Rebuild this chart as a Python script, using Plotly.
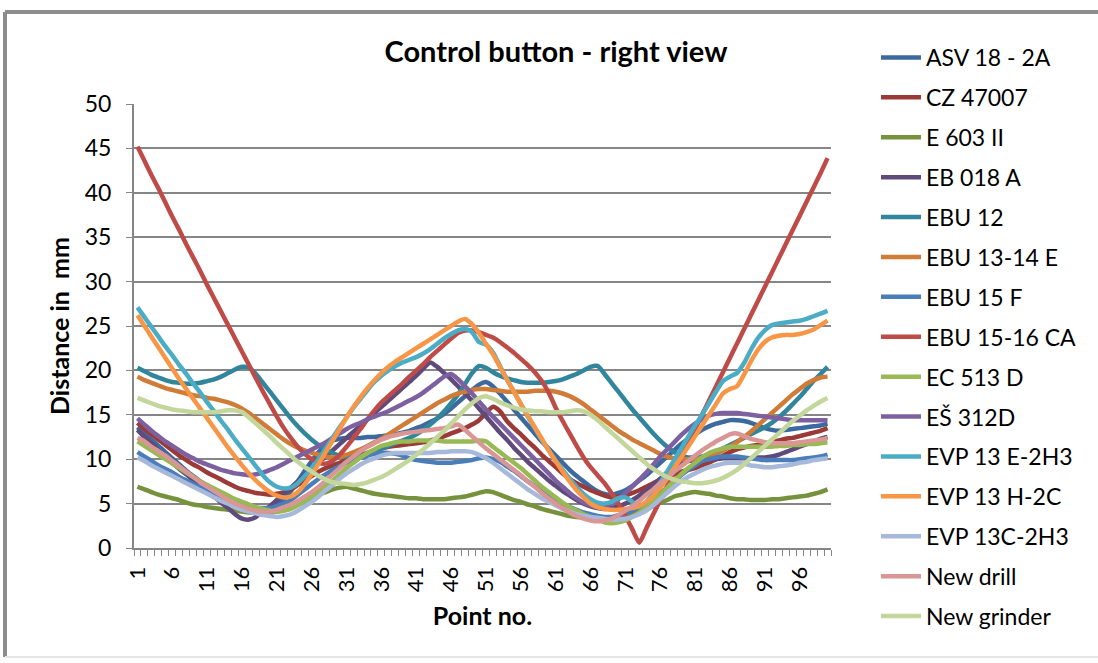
import plotly.graph_objects as go

# Measurement point numbers along the contour
points = list(range(1, 101))

asv_18_2a = [
    13.6, 12.9, 12.2, 11.5, 10.8, 10.1, 9.4, 8.7, 8.1, 7.5,
    7.0, 6.5, 6.0, 5.5, 5.0, 4.7, 4.4, 4.3, 4.3, 4.5,
    4.9, 5.5, 6.4, 7.5, 8.7, 9.8, 10.8, 11.6, 12.1, 12.3,
    12.4, 12.4, 12.4, 12.5, 12.5, 12.6, 12.7, 12.8, 13.0, 13.2,
    13.5, 13.8, 14.2, 14.6, 15.1, 15.7, 16.4, 17.1, 17.8, 18.4,
    18.7, 18.2, 17.4, 16.5, 15.6, 14.7, 13.8, 12.9, 12.0, 11.2,
    10.4, 9.6, 8.8, 8.1, 7.5, 6.9, 6.4, 6.1, 6.0, 6.2,
    6.5, 7.0, 7.6, 8.2, 8.9, 9.6, 10.3, 11.0, 11.7, 12.3,
    12.8, 13.3, 13.7, 14.0, 14.2, 14.4, 14.4, 14.3, 14.1, 13.8,
    13.5, 13.3, 13.2, 13.3, 13.4, 13.5, 13.6, 13.7, 13.8, 14.0,
]
cz_47007 = [
    14.1, 13.4, 12.8, 12.2, 11.6, 11.0, 10.4, 9.9, 9.4, 9.0,
    8.5, 8.1, 7.7, 7.3, 6.9, 6.6, 6.4, 6.2, 6.1, 6.0,
    6.1, 6.3, 6.6, 7.1, 7.6, 8.1, 8.6, 9.0, 9.3, 9.6,
    9.9, 10.2, 10.5, 10.7, 11.0, 11.2, 11.4, 11.5, 11.6, 11.7,
    11.8, 11.9, 12.1, 12.3, 12.6, 12.9, 13.2, 13.5, 13.9, 14.4,
    15.2, 15.9, 15.4, 14.3, 13.5, 12.8, 12.0, 11.3, 10.5, 9.8,
    9.1, 8.4, 7.8, 7.3, 6.9, 6.5, 6.2, 5.9, 5.7, 5.8,
    5.9, 6.2, 6.5, 6.9, 7.3, 7.7, 8.0, 8.3, 8.6, 8.8,
    9.0, 9.3, 9.6, 10.0, 10.4, 10.8, 11.1, 11.3, 11.5, 11.6,
    11.7, 11.9, 12.1, 12.3, 12.4, 12.6, 12.8, 13.0, 13.2, 13.5,
]
e_603_ii = [
    6.9, 6.6, 6.3, 6.0, 5.8, 5.6, 5.4, 5.1, 4.9, 4.8,
    4.6, 4.5, 4.4, 4.3, 4.2, 4.1, 4.0, 4.0, 4.0, 4.0,
    4.1, 4.3, 4.6, 4.9, 5.2, 5.6, 6.0, 6.3, 6.6, 6.8,
    6.9, 6.7, 6.5, 6.3, 6.1, 6.0, 5.9, 5.8, 5.7, 5.6,
    5.6, 5.5, 5.5, 5.5, 5.5, 5.6, 5.7, 5.8, 6.0, 6.2,
    6.4, 6.3, 6.0, 5.7, 5.4, 5.2, 4.9, 4.7, 4.4, 4.2,
    4.0, 3.8, 3.6, 3.5, 3.4, 3.3, 3.3, 3.3, 3.3, 3.4,
    3.6, 3.8, 4.1, 4.4, 4.7, 5.1, 5.4, 5.8, 6.0, 6.2,
    6.3, 6.2, 6.1, 5.9, 5.8, 5.6, 5.5, 5.5, 5.4, 5.4,
    5.4, 5.5, 5.5, 5.6, 5.7, 5.8, 5.9, 6.1, 6.3, 6.6,
]
eb_018_a = [
    13.3, 12.5, 11.8, 11.0, 10.3, 9.6, 8.9, 8.3, 7.6, 7.0,
    6.4, 5.8, 5.1, 4.5, 3.8, 3.3, 3.2, 3.5, 4.1, 4.7,
    5.4, 6.1, 6.8, 7.5, 8.2, 8.9, 9.6, 10.3, 11.0, 11.7,
    12.4, 13.1, 13.8, 14.5, 15.2, 15.9, 16.6, 17.3, 18.0, 18.7,
    19.4, 20.2, 20.9, 20.4, 19.7, 19.0, 18.2, 17.4, 16.6, 15.7,
    14.8, 13.9, 13.0, 12.2, 11.3, 10.5, 9.7, 9.0, 8.3, 7.6,
    7.0, 6.4, 5.9, 5.4, 5.0, 4.7, 4.5, 4.4, 4.5, 4.7,
    5.0, 5.4, 5.9, 6.5, 7.1, 7.8, 8.5, 9.1, 9.5, 9.8,
    9.9, 10.0, 10.0, 10.0, 10.1, 10.1, 10.1, 10.1, 10.1, 10.2,
    10.2, 10.3, 10.5, 10.8, 11.1, 11.4, 11.7, 12.0, 12.3, 12.5,
]
ebu_12 = [
    20.3, 19.9, 19.5, 19.2, 18.9, 18.7, 18.6, 18.5, 18.5, 18.6,
    18.8, 19.0, 19.3, 19.7, 20.1, 20.4, 20.3, 19.6, 18.6, 17.6,
    16.6, 15.6, 14.6, 13.7, 12.9, 12.2, 11.6, 11.1, 10.7, 10.4,
    10.3, 10.3, 10.4, 10.6, 10.9, 11.2, 11.5, 11.8, 12.1, 12.4,
    12.8, 13.3, 13.9, 14.6, 15.4, 16.3, 17.3, 18.5, 19.7, 20.5,
    20.3, 19.8, 19.4, 19.1, 18.9, 18.7, 18.6, 18.6, 18.6, 18.7,
    18.8, 19.0, 19.3, 19.6, 20.0, 20.4, 20.5, 19.6, 18.6, 17.6,
    16.6, 15.6, 14.7, 13.8, 12.9, 12.1, 11.4, 10.8, 10.4, 10.2,
    10.2, 10.3, 10.5, 10.8, 11.2, 11.6, 12.0, 12.4, 12.8, 13.2,
    13.6, 14.1, 14.7, 15.4, 16.2, 17.0, 17.9, 18.8, 19.6, 20.4,
]
ebu_13_14_e = [
    19.3, 18.9, 18.6, 18.3, 18.0, 17.8, 17.6, 17.4, 17.2, 17.1,
    16.9, 16.8, 16.6, 16.4, 16.1, 15.7, 15.2, 14.6, 14.0, 13.4,
    12.8, 12.2, 11.7, 11.3, 11.0, 10.7, 10.5, 10.3, 10.2, 10.3,
    10.5, 10.8, 11.1, 11.5, 11.9, 12.3, 12.8, 13.3, 13.8, 14.3,
    14.8, 15.3, 15.8, 16.3, 16.7, 17.1, 17.4, 17.6, 17.8, 17.9,
    17.9, 17.8, 17.7, 17.6, 17.6, 17.6, 17.6, 17.7, 17.7, 17.7,
    17.6, 17.4, 17.1, 16.7, 16.2, 15.6, 15.0, 14.4, 13.8, 13.2,
    12.7, 12.2, 11.8, 11.4, 11.0, 10.6, 10.3, 10.1, 10.0, 10.0,
    10.0, 10.1, 10.3, 10.6, 11.0, 11.4, 11.9, 12.5, 13.1, 13.8,
    14.5, 15.2, 15.9, 16.6, 17.3, 17.9, 18.5, 18.9, 19.2, 19.3,
]
ebu_15_f = [
    10.8, 10.3, 9.8, 9.3, 8.9, 8.5, 8.0, 7.6, 7.2, 6.8,
    6.4, 6.0, 5.7, 5.3, 5.0, 4.8, 4.6, 4.5, 4.5, 4.5,
    4.7, 5.0, 5.4, 6.0, 6.6, 7.2, 7.8, 8.3, 8.8, 9.2,
    9.6, 9.9, 10.2, 10.4, 10.6, 10.7, 10.7, 10.6, 10.4, 10.1,
    9.9, 9.8, 9.7, 9.6, 9.6, 9.6, 9.7, 9.8, 9.9, 10.1,
    10.2, 10.0, 9.7, 9.2, 8.7, 8.1, 7.5, 7.0, 6.4, 5.9,
    5.4, 5.0, 4.6, 4.3, 4.0, 3.8, 3.6, 3.5, 3.5, 3.7,
    3.9, 4.2, 4.6, 5.0, 5.6, 6.2, 6.8, 7.5, 8.2, 8.8,
    9.3, 9.8, 10.0, 10.2, 10.3, 10.3, 10.3, 10.2, 10.1, 10.0,
    9.9, 9.9, 9.9, 9.9, 9.9, 10.0, 10.1, 10.2, 10.3, 10.5,
]
ebu_15_16_ca = [
    45.2, 43.6, 42.0, 40.5, 38.9, 37.3, 35.8, 34.2, 32.7, 31.2,
    29.6, 28.1, 26.6, 25.1, 23.6, 22.1, 20.6, 19.1, 17.6, 16.2,
    14.8, 13.5, 12.4, 11.4, 10.6, 10.0, 9.6, 9.5, 9.8, 10.5,
    11.4, 12.4, 13.4, 14.5, 15.5, 16.4, 17.1, 17.8, 18.5, 19.3,
    20.0, 20.7, 21.5, 22.2, 22.9, 23.6, 24.2, 24.5, 24.5, 24.3,
    24.0, 23.7, 23.2, 22.6, 22.0, 21.3, 20.6, 19.8, 18.8, 17.5,
    15.8, 14.3, 12.9, 11.5, 10.2, 9.1, 8.2, 7.3, 6.2, 5.0,
    3.6, 2.1, 0.6, 2.2, 3.8, 5.4, 7.0, 8.6, 10.2, 11.8,
    13.4, 15.0, 16.6, 18.2, 19.8, 21.4, 23.0, 24.6, 26.2, 27.8,
    29.4, 31.0, 32.6, 34.2, 35.8, 37.4, 39.0, 40.6, 42.2, 43.9,
]
ec_513_d = [
    12.0, 11.5, 11.0, 10.5, 10.0, 9.5, 9.0, 8.5, 8.0, 7.5,
    7.1, 6.7, 6.3, 5.9, 5.5, 5.2, 4.9, 4.6, 4.4, 4.2,
    4.1, 4.2, 4.4, 4.8, 5.3, 5.8, 6.4, 7.0, 7.6, 8.3,
    9.0, 9.6, 10.2, 10.7, 11.1, 11.5, 11.7, 11.9, 12.0, 12.0,
    12.1, 12.1, 12.1, 12.1, 12.0, 12.0, 12.0, 12.0, 12.0, 12.1,
    12.0, 11.4, 10.8, 10.2, 9.6, 9.0, 8.3, 7.6, 6.9, 6.3,
    5.7, 5.1, 4.6, 4.2, 3.8, 3.5, 3.2, 2.9, 2.8, 2.9,
    3.1, 3.5, 4.0, 4.6, 5.3, 6.0, 6.8, 7.6, 8.3, 9.0,
    9.6, 10.2, 10.7, 11.0, 11.2, 11.4, 11.4, 11.4, 11.4, 11.4,
    11.4, 11.4, 11.5, 11.5, 11.6, 11.6, 11.7, 11.7, 11.8, 11.9,
]
es_312d = [
    14.6, 13.9, 13.2, 12.6, 12.0, 11.5, 11.0, 10.5, 10.1, 9.7,
    9.4, 9.1, 8.8, 8.6, 8.4, 8.3, 8.2, 8.3, 8.5, 8.8,
    9.1, 9.5, 9.9, 10.3, 10.7, 11.1, 11.5, 11.9, 12.4, 12.9,
    13.4, 13.8, 14.1, 14.5, 14.8, 15.1, 15.4, 15.8, 16.2, 16.6,
    17.0, 17.5, 18.1, 18.7, 19.3, 19.6, 19.0, 18.2, 17.4, 16.5,
    15.6, 14.8, 14.0, 13.2, 12.4, 11.6, 10.8, 10.0, 9.2, 8.4,
    7.6, 6.9, 6.2, 5.6, 5.1, 4.8, 4.6, 4.7, 5.0, 5.5,
    6.2, 6.9, 7.7, 8.5, 9.4, 10.3, 11.1, 11.9, 12.7, 13.4,
    14.0, 14.5, 14.9, 15.1, 15.2, 15.2, 15.2, 15.1, 15.0, 14.9,
    14.8, 14.7, 14.6, 14.5, 14.4, 14.4, 14.4, 14.4, 14.4, 14.4,
]
evp_13_e_2h3 = [
    27.1, 26.0, 24.9, 23.8, 22.7, 21.7, 20.6, 19.6, 18.5, 17.5,
    16.4, 15.4, 14.3, 13.3, 12.2, 11.2, 10.2, 9.2, 8.2, 7.4,
    6.9, 6.7, 6.8, 7.3, 8.1, 9.0, 10.0, 11.2, 12.4, 13.6,
    14.7, 15.8, 16.8, 17.8, 18.7, 19.4, 20.0, 20.5, 20.9, 21.2,
    21.5, 21.9, 22.4, 23.0, 23.6, 24.1, 24.5, 24.7, 24.3, 23.2,
    22.9, 22.0, 20.5, 19.0, 17.6, 16.2, 14.8, 13.5, 12.2, 11.0,
    9.8, 8.8, 7.8, 6.9, 6.1, 5.5, 5.1, 5.0, 5.2, 5.6,
    5.7, 5.2, 4.7, 5.2, 6.2, 7.4, 8.6, 9.9, 11.2, 12.5,
    13.8, 15.0, 16.3, 17.6, 18.8, 19.3, 19.7, 20.8, 22.3, 23.6,
    24.5, 25.1, 25.3, 25.4, 25.5, 25.6, 25.8, 26.1, 26.4, 26.7,
]
evp_13_h_2c = [
    26.2, 25.0, 23.8, 22.6, 21.4, 20.2, 19.0, 17.9, 16.8, 15.7,
    14.6, 13.5, 12.4, 11.3, 10.3, 9.3, 8.4, 7.6, 6.9, 6.3,
    5.9, 5.7, 5.8, 6.3, 7.2, 8.3, 9.5, 10.8, 12.1, 13.4,
    14.7, 15.9, 17.0, 18.0, 18.9, 19.7, 20.4, 21.0, 21.5, 22.0,
    22.5, 23.0, 23.5, 24.0, 24.5, 25.0, 25.5, 25.8, 25.2, 24.2,
    23.0, 21.8, 20.4, 19.0, 17.6, 16.2, 14.9, 13.6, 12.3, 11.0,
    9.8, 8.6, 7.5, 6.5, 5.7, 5.0, 4.6, 4.4, 4.3, 4.3,
    4.4, 4.5, 4.7, 5.2, 5.9, 6.8, 7.8, 9.0, 10.2, 11.4,
    12.6, 13.8, 15.0, 16.2, 17.4, 17.9, 18.2, 19.5, 21.0, 22.3,
    23.2, 23.7, 23.9, 24.0, 24.0, 24.1, 24.3, 24.6, 25.1, 25.6,
]
evp_13c_2h3 = [
    10.2, 9.8, 9.3, 8.9, 8.5, 8.1, 7.7, 7.3, 6.9, 6.5,
    6.1, 5.7, 5.3, 5.0, 4.6, 4.3, 4.1, 3.9, 3.7, 3.6,
    3.5, 3.6, 3.8, 4.2, 4.7, 5.2, 5.8, 6.5, 7.1, 7.8,
    8.4, 8.9, 9.4, 9.8, 10.1, 10.4, 10.6, 10.7, 10.7, 10.7,
    10.7, 10.7, 10.7, 10.8, 10.8, 10.9, 10.9, 10.9, 10.8, 10.5,
    10.1, 9.6, 9.0, 8.4, 7.8, 7.2, 6.6, 6.1, 5.6, 5.2,
    4.8, 4.4, 4.1, 3.8, 3.6, 3.5, 3.4, 3.3, 3.2, 3.2,
    3.3, 3.5, 3.8, 4.2, 4.8, 5.5, 6.2, 6.9, 7.5, 8.0,
    8.4, 8.8, 9.1, 9.3, 9.5, 9.6, 9.6, 9.5, 9.3, 9.2,
    9.1, 9.1, 9.2, 9.3, 9.4, 9.6, 9.7, 9.9, 10.0, 10.1,
]
new_drill = [
    12.4, 12.0, 11.4, 10.9, 10.4, 9.8, 9.2, 8.6, 8.0, 7.4,
    6.9, 6.4, 5.9, 5.4, 5.0, 4.7, 4.4, 4.2, 4.1, 4.1,
    4.3, 4.6, 4.9, 5.3, 5.8, 6.3, 6.9, 7.6, 8.3, 9.0,
    9.7, 10.3, 10.9, 11.4, 11.8, 12.2, 12.5, 12.7, 12.9, 13.0,
    13.1, 13.2, 13.3, 13.4, 13.5, 13.7, 13.9, 13.3, 12.6, 11.9,
    11.2, 10.6, 10.0, 9.4, 8.8, 8.2, 7.5, 6.9, 6.2, 5.6,
    5.0, 4.5, 4.0, 3.6, 3.3, 3.1, 3.0, 3.1, 3.3, 3.7,
    4.2, 4.7, 5.3, 6.0, 6.6, 7.3, 7.9, 8.6, 9.2, 9.8,
    10.4, 11.0, 11.5, 12.0, 12.4, 12.8, 12.9, 12.6, 12.3, 12.1,
    11.9, 11.8, 11.8, 11.8, 11.8, 11.9, 12.0, 12.1, 12.2, 12.4,
]
new_grinder = [
    16.9, 16.6, 16.3, 16.0, 15.8, 15.6, 15.5, 15.4, 15.3, 15.3,
    15.3, 15.3, 15.4, 15.5, 15.5, 15.3, 14.7, 14.0, 13.3, 12.6,
    11.8, 11.1, 10.4, 9.7, 9.1, 8.6, 8.1, 7.7, 7.4, 7.3,
    7.2, 7.1, 7.2, 7.4, 7.7, 8.0, 8.4, 8.9, 9.4, 9.9,
    10.5, 11.1, 11.8, 12.5, 13.2, 14.0, 14.8, 15.6, 16.3, 16.9,
    17.1, 16.8, 16.4, 16.1, 15.8, 15.6, 15.5, 15.4, 15.4, 15.3,
    15.3, 15.3, 15.4, 15.5, 15.4, 15.0, 14.4, 13.7, 13.0, 12.3,
    11.6, 10.9, 10.2, 9.5, 8.9, 8.4, 8.0, 7.7, 7.5, 7.4,
    7.3, 7.3, 7.4, 7.6, 7.9, 8.3, 8.8, 9.4, 10.1, 10.8,
    11.5, 12.2, 12.9, 13.6, 14.3, 14.9, 15.5, 16.0, 16.5, 16.9,
]

series_names = [
    "ASV 18 - 2A", "CZ 47007", "E 603 II", "EB 018 A", "EBU 12",
    "EBU 13-14 E", "EBU 15 F", "EBU 15-16 CA", "EC 513 D", "EŠ 312D",
    "EVP 13 E-2H3", "EVP 13 H-2C", "EVP 13C-2H3", "New drill", "New grinder",
]
series_values = [
    asv_18_2a, cz_47007, e_603_ii, eb_018_a, ebu_12,
    ebu_13_14_e, ebu_15_f, ebu_15_16_ca, ec_513_d, es_312d,
    evp_13_e_2h3, evp_13_h_2c, evp_13c_2h3, new_drill, new_grinder,
]
series_colors = [
    "#3D6A9E", "#9C3A37", "#76923C", "#604A7B", "#31859C",
    "#D07B37", "#4A7EBB", "#BE4B48", "#98B954", "#7D60A0",
    "#4BACC6", "#F79646", "#A7B9DA", "#D99694", "#C3D69B",
]

x_tick_values = list(range(1, 100, 5))
y_tick_values = list(range(0, 51, 5))

FONT = "Lato, 'Open Sans', sans-serif"
GRID = "#868686"

fig = go.Figure()
for name, vals, col in zip(series_names, series_values, series_colors):
    fig.add_trace(go.Scatter(
        x=points, y=vals, name=name, mode="lines",
        legendgroup=name,
        line=dict(color=col, width=4.5, shape="spline", smoothing=0.6),
    ))

# plot-area geometry in pixels, used for the outer frame
L, R, T, B = 134, 831, 104, 548
W, H = 1098, 663


def px_x(p):
    return (p - L) / (R - L)


def px_y(p):
    return (B - p) / (B - T)


frame = [
    dict(x0=px_x(5), x1=px_x(1100), y0=px_y(12), y1=px_y(12), color="#8C8C8C", width=4),
    dict(x0=px_x(5), x1=px_x(5), y0=px_y(12), y1=px_y(657), color="#8C8C8C", width=4),
    dict(x0=px_x(5), x1=px_x(1100), y0=px_y(657), y1=px_y(657), color="#E6E6E6", width=2),
]
shapes = [
    dict(type="line", xref="paper", yref="paper", x0=f["x0"], x1=f["x1"],
         y0=f["y0"], y1=f["y1"], line=dict(color=f["color"], width=f["width"]))
    for f in frame
]

fig.update_layout(
    width=W, height=H, autosize=False,
    margin=dict(l=L, r=W - R, t=T, b=H - B),
    paper_bgcolor="white", plot_bgcolor="white",
    font=dict(family=FONT, color="black"),
    title=dict(text="<b>Control button - right view</b>", x=556 / W, xanchor="center",
               y=1 - 52 / H, yanchor="middle", font=dict(size=29, family=FONT)),
    legend=dict(
        x=px_x(876), xanchor="left", y=px_y(36), yanchor="top",
        font=dict(size=23, family=FONT), tracegroupgap=7,
        bgcolor="rgba(0,0,0,0)", itemwidth=40, maxheight=640,
    ),
    shapes=shapes,
    xaxis=dict(
        range=[0.5, 100.5], tickmode="array", tickvals=x_tick_values,
        ticktext=[str(v) for v in x_tick_values], tickangle=-90,
        tickfont=dict(size=22), ticks="", showgrid=False, zeroline=False,
        showline=True, linecolor=GRID, linewidth=2, ticklabelstandoff=8,
        minor=dict(ticks="outside", tick0=0.5, dtick=1, ticklen=6,
                   tickcolor=GRID, tickwidth=1, showgrid=False),
        title=dict(text="<b>Point no.</b>", font=dict(size=25), standoff=16),
    ),
    yaxis=dict(
        range=[0, 50], tickmode="array", tickvals=y_tick_values,
        tickfont=dict(size=23), ticks="outside", ticklen=6, tickcolor=GRID,
        showgrid=True, gridcolor=GRID, gridwidth=2, zeroline=False,
        showline=True, linecolor=GRID, linewidth=2, ticklabelstandoff=10,
        title=dict(text="<b>Distance in&nbsp; mm</b>", font=dict(size=25), standoff=8),
    ),
)

fig.write_html("out.html")
